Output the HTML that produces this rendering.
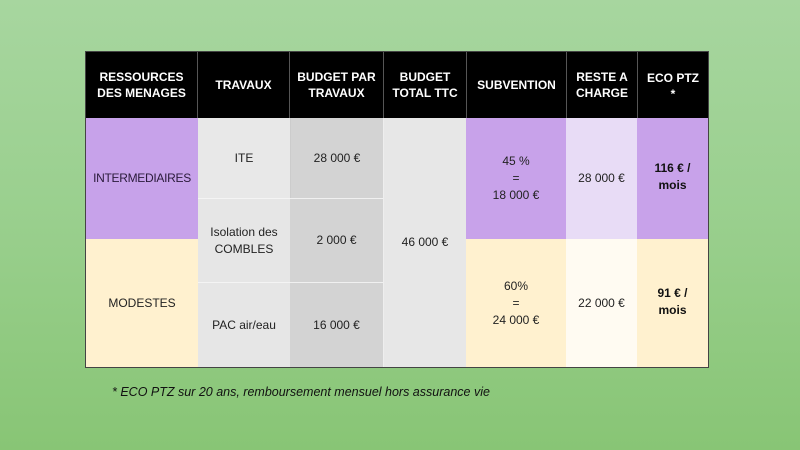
<!DOCTYPE html>
<html><head><meta charset="utf-8"><style>
*{margin:0;padding:0;box-sizing:border-box}
body{width:800px;height:450px;overflow:hidden;background:linear-gradient(180deg,#a7d69f 0%,#99cf8d 50%,#88c575 100%);font-family:"Liberation Sans",sans-serif;position:relative}
.c{position:absolute;display:flex;align-items:center;justify-content:center;text-align:center;font-size:12px;color:#222;line-height:17px}
.h{background:#000;color:#fff;font-weight:bold;font-size:12px;line-height:16px;border-left:1px solid #555}
</style></head><body>
<div style="position:absolute;left:85px;top:51px;width:624px;height:317px;background:#444"></div>
<div class="c h" style="left:86px;top:52px;width:111px;height:66px;border-left:none">RESSOURCES<br>DES MENAGES</div>
<div class="c h" style="left:197px;top:52px;width:92px;height:66px">TRAVAUX</div>
<div class="c h" style="left:289px;top:52px;width:94px;height:66px">BUDGET PAR<br>TRAVAUX</div>
<div class="c h" style="left:383px;top:52px;width:83px;height:66px">BUDGET<br>TOTAL TTC</div>
<div class="c h" style="left:466px;top:52px;width:100px;height:66px">SUBVENTION</div>
<div class="c h" style="left:566px;top:52px;width:71px;height:66px">RESTE A<br>CHARGE</div>
<div class="c h" style="left:637px;top:52px;width:71px;height:66px;align-items:flex-start;padding-top:18px">ECO PTZ<br>*</div>

<div class="c" style="left:86px;top:118px;width:112px;height:121px;background:#c7a2ea;color:#2a1a3a;letter-spacing:-0.3px">INTERMEDIAIRES</div>
<div class="c" style="left:86px;top:239px;width:112px;height:128px;background:#fff1cf">MODESTES</div>

<div class="c" style="left:198px;top:118px;width:92px;height:80px;background:#e8e8e8">ITE</div>
<div class="c" style="left:198px;top:198px;width:92px;height:84px;background:#e6e6e6;border-top:1px solid #f4f4f4">Isolation des<br>COMBLES</div>
<div class="c" style="left:198px;top:282px;width:92px;height:85px;background:#e6e6e6;border-top:1px solid #f4f4f4">PAC air/eau</div>

<div class="c" style="left:290px;top:118px;width:93px;height:80px;background:#d3d3d3;border-left:1px solid #ccc">28 000 €</div>
<div class="c" style="left:290px;top:198px;width:93px;height:84px;background:#d3d3d3;border-top:1px solid #f0f0f0">2 000 €</div>
<div class="c" style="left:290px;top:282px;width:93px;height:85px;background:#d3d3d3;border-top:1px solid #f0f0f0">16 000 €</div>

<div class="c" style="left:383px;top:118px;width:83px;height:249px;background:#e7e7e7;border-left:1px solid #eee">46 000 €</div>

<div class="c" style="left:466px;top:118px;width:100px;height:121px;background:#c8a2ea">45 %<br>=<br>18 000 €</div>
<div class="c" style="left:466px;top:239px;width:100px;height:128px;background:#fff1cf">60%<br>=<br>24 000 €</div>

<div class="c" style="left:566px;top:118px;width:71px;height:121px;background:#e8dcf6">28 000 €</div>
<div class="c" style="left:566px;top:239px;width:71px;height:128px;background:#fffbf2">22 000 €</div>

<div class="c" style="left:637px;top:118px;width:71px;height:121px;background:#c8a2ea;font-weight:bold;color:#111;align-items:flex-start;padding-top:42px">116 € /<br>mois</div>
<div class="c" style="left:637px;top:239px;width:71px;height:128px;background:#fff1cf;font-weight:bold;color:#111;align-items:flex-start;padding-top:46px">91 € /<br>mois</div>

<div style="position:absolute;left:112px;top:385px;font-size:12.5px;font-style:italic;color:#111">* ECO PTZ sur 20 ans, remboursement mensuel hors assurance vie</div>
</body></html>
